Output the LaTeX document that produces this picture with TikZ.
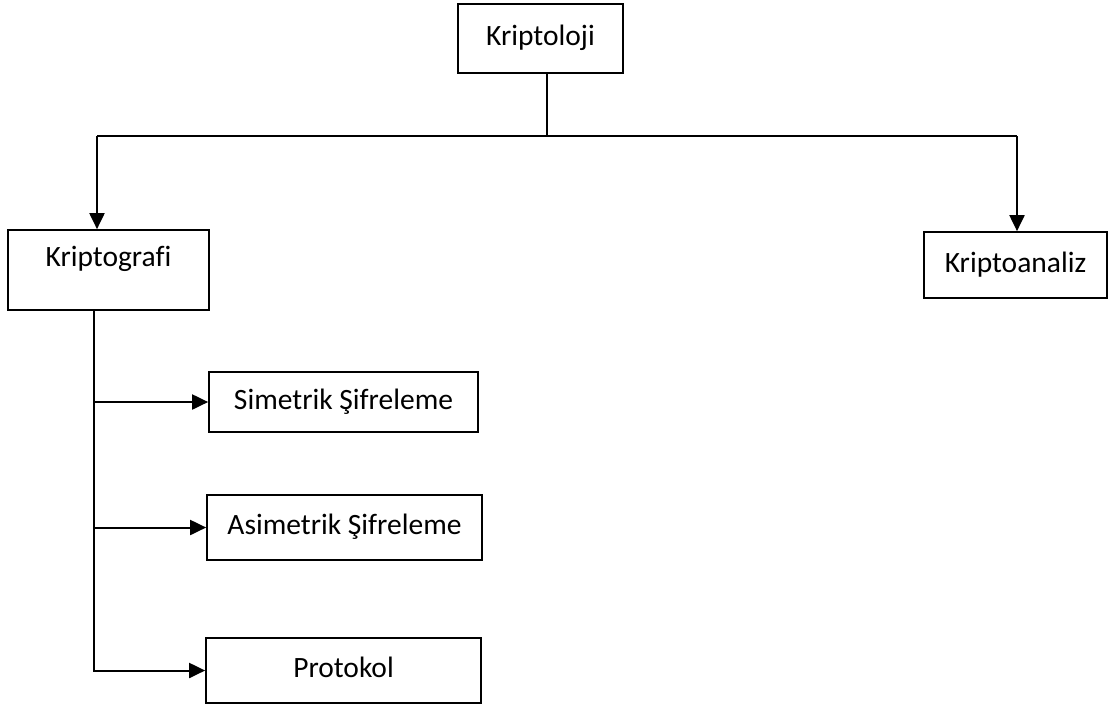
\documentclass[tikz,border=0pt]{standalone}
\usepackage{fontspec}
\setmainfont{Carlito}[Ligatures=NoCommon]
\usepackage{tikz}
\usetikzlibrary{positioning,arrows.meta}

\begin{document}
\begin{tikzpicture}[x=1pt, y=-1pt, >={Triangle[width=15pt,length=16pt]},
  kutu/.style={draw, line width=1.7pt, rectangle, inner sep=0pt,
    text height=20pt, text depth=6pt,
    font=\fontsize{29.5}{34}\selectfont},
  baglanti/.style={line width=2pt}]
  \useasboundingbox (0,0) rectangle (1113,705);

  % Draw the boxes
  \node[kutu, minimum width=165pt, minimum height=69pt] (kriptoloji) at (540.5, 38.5) {Kriptoloji};
  \node[kutu, minimum width=201pt, minimum height=80pt, text depth=27pt] (kriptografi) at (108.5, 270) {Kriptografi};
  \node[kutu, minimum width=183pt, minimum height=66pt] (kriptoanaliz) at (1015.5, 265) {Kriptoanaliz};
  \node[kutu, minimum width=269pt, minimum height=60pt] (simetrik) at (343.5, 402) {Simetrik Şifreleme};
  \node[kutu, minimum width=275pt, minimum height=65pt] (asimetrik) at (344.5, 527.5) {Asimetrik Şifreleme};
  \node[kutu, minimum width=275pt, minimum height=65pt] (protokol) at (343.5, 670.5) {Protokol};

  % Junction points
  \coordinate (barM) at (547, 136);
  \coordinate (barL) at (97, 136);
  \coordinate (barR) at (1017, 136);
  \coordinate (gövde) at (94, 312);

  % Draw the top branch
  \draw[baglanti] (kriptoloji.south -| barM) -- (barM);
  \draw[baglanti] (barL) -- (barR);
  \draw[baglanti, ->] (barL) -- (kriptografi.north -| barL);
  \draw[baglanti, ->] (barR) -- (kriptoanaliz.north -| barR);

  % Draw the trunk below Kriptografi
  \draw[baglanti, ->] (kriptografi.south -| gövde) |- (protokol.west);
  \draw[baglanti, ->] (gövde |- simetrik.west) -- (simetrik.west);
  \draw[baglanti, ->] (gövde |- asimetrik.west) -- (asimetrik.west);

\end{tikzpicture}
\end{document}
